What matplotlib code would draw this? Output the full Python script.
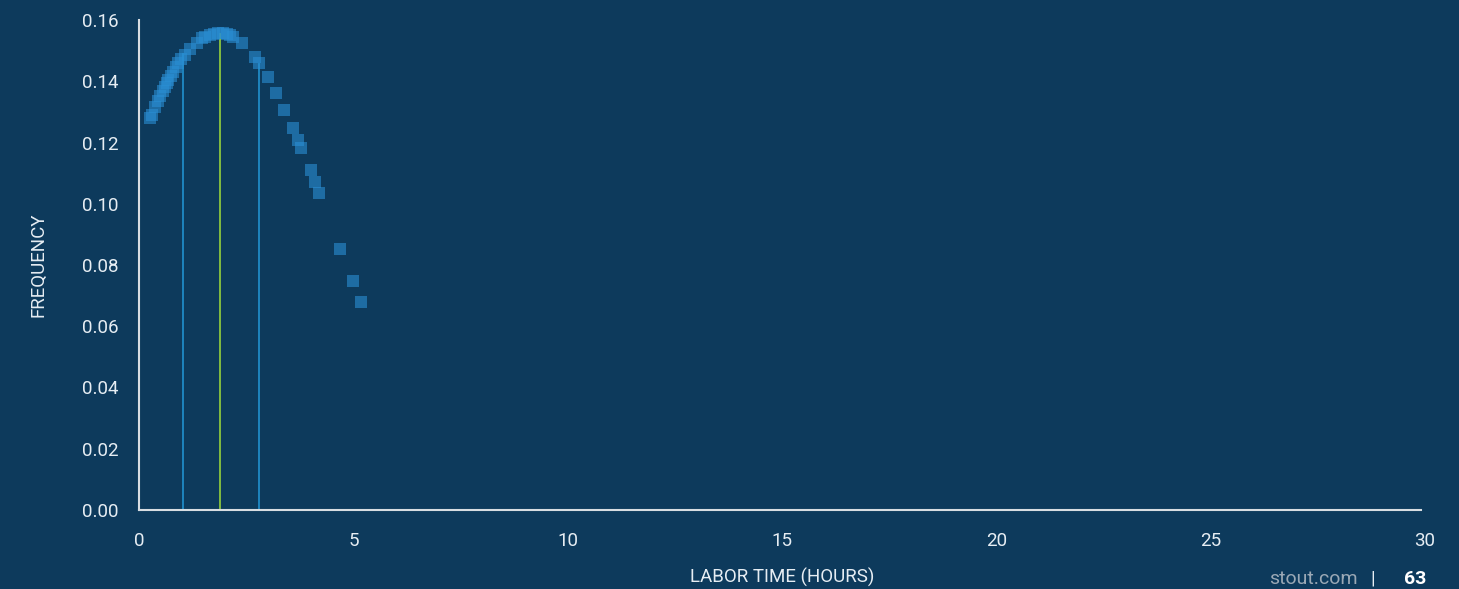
import matplotlib
matplotlib.use("Agg")
import matplotlib.pyplot as plt

# labor time (hours) vs frequency
hours = [0.26, 0.30, 0.37, 0.45, 0.49, 0.55, 0.61, 0.65, 0.68, 0.74, 0.80, 0.86,
         0.92, 0.99, 1.07, 1.20, 1.35, 1.46, 1.55, 1.66, 1.76, 1.85, 1.95, 2.05,
         2.12, 2.20, 2.40, 2.70, 2.80, 3.02, 3.20, 3.38, 3.60, 3.72, 3.78, 4.01,
         4.10, 4.20, 4.69, 5.00, 5.19]
freq = [0.1279, 0.1290, 0.1317, 0.1335, 0.1352, 0.1368, 0.1382, 0.1393, 0.1404,
        0.1418, 0.1431, 0.1446, 0.1459, 0.1472, 0.1486, 0.1505, 0.1524, 0.1540,
        0.1546, 0.1551, 0.1554, 0.1556, 0.1556, 0.1554, 0.1550, 0.1546, 0.1524,
        0.1480, 0.1459, 0.1415, 0.1363, 0.1306, 0.1246, 0.1208, 0.1181, 0.1110,
        0.1072, 0.1036, 0.0853, 0.0749, 0.0679]

# reference lines: lower, mode, upper
vline_x = [1.02, 1.89, 2.80]
vline_top = [0.1490, 0.1555, 0.1455]
vline_colors = ["#1f8ac6", "#8cc63f", "#1f8ac6"]

xticks = [0, 5, 10, 15, 20, 25, 30]
yticks = [0.00, 0.02, 0.04, 0.06, 0.08, 0.10, 0.12, 0.14, 0.16]

bg = "#0d3a5c"
txt = "#e6edf3"
plt.rcParams["font.family"] = ["Roboto", "DejaVu Sans"]

fig = plt.figure(figsize=(14.59, 5.89), dpi=100, facecolor=bg)
ax = fig.add_axes([139 / 1459, 1 - 510 / 589, (1425 - 139) / 1459, (510 - 20) / 589])
ax.set_facecolor(bg)

for x, top, c in zip(vline_x, vline_top, vline_colors):
    ax.plot([x, x], [0, top], color=c, lw=1.3, zorder=2)

ax.scatter(hours, freq, marker="s", s=80, color="#2a8fd4", alpha=0.6,
           linewidths=0, zorder=3)

ax.set_xlim(0, 30)
ax.set_ylim(0, 0.16)
ax.set_xticks(xticks)
ax.set_yticks(yticks)
ax.set_yticklabels([f"{v:.2f}" for v in yticks])
ax.tick_params(length=0, colors=txt, labelsize=13.5)
ax.tick_params(axis="x", pad=16)
ax.tick_params(axis="y", pad=15)

for s in ["top", "right"]:
    ax.spines[s].set_visible(False)
for s in ["left", "bottom"]:
    ax.spines[s].set_color("#d8dde2")
    ax.spines[s].set_linewidth(1.5)
ax.spines["bottom"].set_bounds(0, 29.9)

ax.set_xlabel("LABOR TIME (HOURS)", color=txt, fontsize=13.5, va="center")
ax.xaxis.set_label_coords(0.5, -(577 - 510) / 490)
ax.set_ylabel("FREQUENCY", color=txt, fontsize=13.5, va="center")
ax.yaxis.set_label_coords(-(139 - 38) / 1286, 0.5)

fig.text(1358 / 1459, 1 / 589, "stout.com", color="#9aa8b5", fontsize=14,
         ha="right", va="bottom")
fig.text(1373 / 1459, 1 / 589, "|", color=txt, fontsize=14,
         ha="center", va="bottom")
fig.text(1404 / 1459, 1 / 589, "63", color="white", fontsize=14,
         fontweight="bold", ha="left", va="bottom")

fig.savefig("out.png", dpi=100, facecolor=bg)
